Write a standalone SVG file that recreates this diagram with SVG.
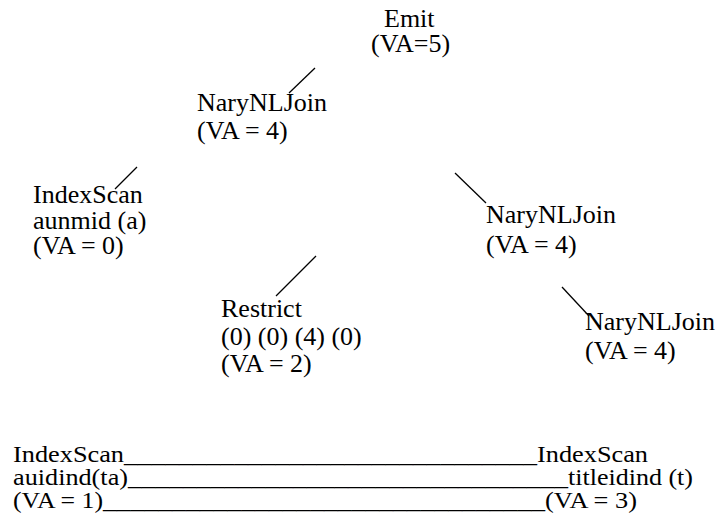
<svg xmlns="http://www.w3.org/2000/svg" width="723" height="527" viewBox="0 0 723 527" font-family="Liberation Serif, Times New Roman, Times, serif">
  <rect width="723" height="527" fill="#fff"/>

  <!-- connectors -->
  <g id="connectors" stroke="#000" stroke-width="1.3" fill="none">
    <line x1="315" y1="68" x2="289" y2="93"/>
    <line x1="137" y1="167" x2="115" y2="189"/>
    <line x1="455" y1="173" x2="486" y2="203"/>
    <line x1="316" y1="256" x2="276" y2="296"/>
    <line x1="562" y1="287" x2="589" y2="316"/>
  </g>

  <g id="emit" font-size="26">
    <text x="384" y="27">Emit</text>
    <text x="371" y="52">(VA=5)</text>
  </g>

  <g id="join-top" font-size="26">
    <text x="197" y="111">NaryNLJoin</text>
    <text x="197" y="139">(VA = 4)</text>
  </g>

  <g id="scan-aunmid" font-size="26">
    <text x="33" y="203">IndexScan</text>
    <text x="33" y="229">aunmid (a)</text>
    <text x="33" y="254">(VA = 0)</text>
  </g>

  <g id="join-mid" font-size="26">
    <text x="486" y="223">NaryNLJoin</text>
    <text x="486" y="253">(VA = 4)</text>
  </g>

  <g id="restrict" font-size="26">
    <text x="221" y="317">Restrict</text>
    <text x="221" y="345">(0) (0) (4) (0)</text>
    <text x="221" y="372">(VA = 2)</text>
  </g>

  <g id="join-low" font-size="26">
    <text x="585" y="330">NaryNLJoin</text>
    <text x="585" y="359">(VA = 4)</text>
  </g>

  <!-- left base scan, underscore runs, right base scan -->
  <g id="scan-auidind" font-size="23">
    <text x="13" y="462" textLength="111" lengthAdjust="spacingAndGlyphs">IndexScan</text>
    <text x="13" y="485" textLength="115" lengthAdjust="spacingAndGlyphs">auidind(ta)</text>
    <text x="13" y="508" textLength="90" lengthAdjust="spacingAndGlyphs">(VA = 1)</text>
  </g>

  <g id="scan-links" font-size="23">
    <text x="124" y="462" textLength="413" lengthAdjust="spacingAndGlyphs">______________________________</text>
    <text x="128" y="485" textLength="440" lengthAdjust="spacingAndGlyphs">________________________________</text>
    <text x="103" y="508" textLength="442" lengthAdjust="spacingAndGlyphs">________________________________</text>
  </g>

  <g id="scan-titleidind" font-size="23">
    <text x="537" y="462" textLength="111" lengthAdjust="spacingAndGlyphs">IndexScan</text>
    <text x="568" y="485" textLength="125" lengthAdjust="spacingAndGlyphs">titleidind (t)</text>
    <text x="545" y="508" textLength="92" lengthAdjust="spacingAndGlyphs">(VA = 3)</text>
  </g>
</svg>
